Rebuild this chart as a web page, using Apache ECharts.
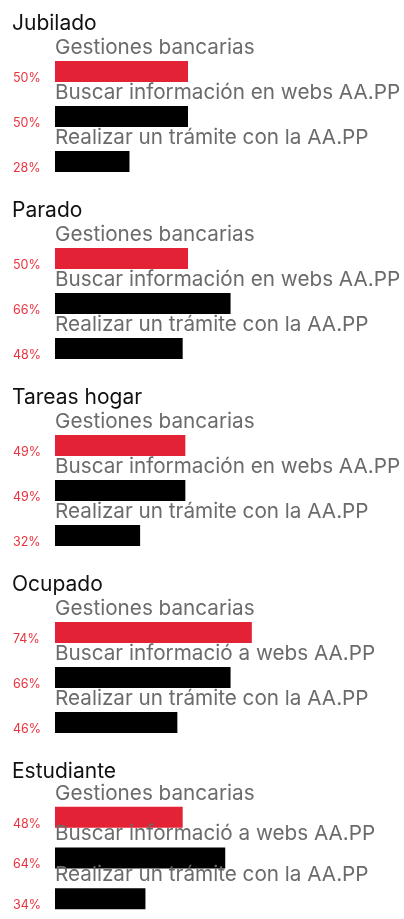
<!DOCTYPE html>
<html>
<head>
<meta charset="utf-8">
<script src="https://cdn.jsdelivr.net/npm/echarts@6/dist/echarts.min.js"></script>
<style>
  html, body { margin: 0; padding: 0; background: #fff; }
  #chart { width: 404px; height: 919px; }
</style>
</head>
<body>
<div id="chart"></div>
<script>
// Groups (respondent situation)
const groups = ['Jubilado', 'Parado', 'Tareas hogar', 'Ocupado', 'Estudiante'];

// Task labels (two wordings are used)
const tasksEs = ['Gestiones bancarias', 'Buscar información en webs AA.PP', 'Realizar un trámite con la AA.PP'];
const tasksMixed = ['Gestiones bancarias', 'Buscar informació a webs AA.PP', 'Realizar un trámite con la AA.PP'];

// Percentages per group, in task order
const jubilado = [50, 50, 28];
const parado = [50, 66, 48];
const tareasHogar = [49, 49, 32];
const ocupado = [74, 66, 46];
const estudiante = [48, 64, 34];

const groupValues = [jubilado, parado, tareasHogar, ocupado, estudiante];
const groupTasks = [tasksEs, tasksEs, tasksEs, tasksMixed, tasksMixed];

const RED = '#e32235';
const BLACK = '#000000';
const PCT_RED = '#e8333f';
const LABEL_GREY = '#6b6b6b';
const FONT = 'Inter, "Noto Sans", sans-serif';

const firstBarTop = 61;
const groupStep = 187;
const band = 45;
const barH = 21;

const grids = [], xAxes = [], yAxes = [], series = [], titles = [];

groups.forEach((name, g) => {
  const values = groupValues[g];
  const tasks = groupTasks[g];
  const barTop = firstBarTop + g * groupStep;
  const gridTop = barTop - (band - barH) / 2;

  titles.push({
    text: name,
    left: 12,
    top: barTop - 48,
    padding: 0,
    textStyle: { fontFamily: FONT, fontSize: 21, fontWeight: 'normal', color: '#111' }
  });

  grids.push({ left: 55, right: 83, top: gridTop, height: band * tasks.length });

  xAxes.push({
    gridIndex: g, type: 'value', min: 0, max: 100,
    show: false
  });

  yAxes.push({
    gridIndex: g, type: 'category', inverse: true, data: tasks,
    axisLine: { show: false }, axisTick: { show: false }, splitLine: { show: false },
    axisLabel: {
      formatter: (v, i) => values[i] + '%',
      align: 'left',
      verticalAlign: 'top',
      margin: 42,
      color: PCT_RED,
      fontFamily: FONT,
      fontSize: 12.5
    }
  });

  series.push({
    type: 'bar',
    xAxisIndex: g,
    yAxisIndex: g,
    barWidth: barH,
    silent: true,
    data: values.map((v, i) => ({
      value: v,
      itemStyle: { color: i === 0 ? RED : BLACK }
    })),
    label: {
      show: true,
      position: [0, -24],
      formatter: p => p.name,
      color: LABEL_GREY,
      fontFamily: FONT,
      fontSize: 20.7
    }
  });
});

const chart = echarts.init(document.getElementById('chart'), null, { renderer: 'canvas' });
chart.setOption({
  animation: false,
  backgroundColor: '#fff',
  title: titles,
  grid: grids,
  xAxis: xAxes,
  yAxis: yAxes,
  series: series
});
</script>
</body>
</html>
